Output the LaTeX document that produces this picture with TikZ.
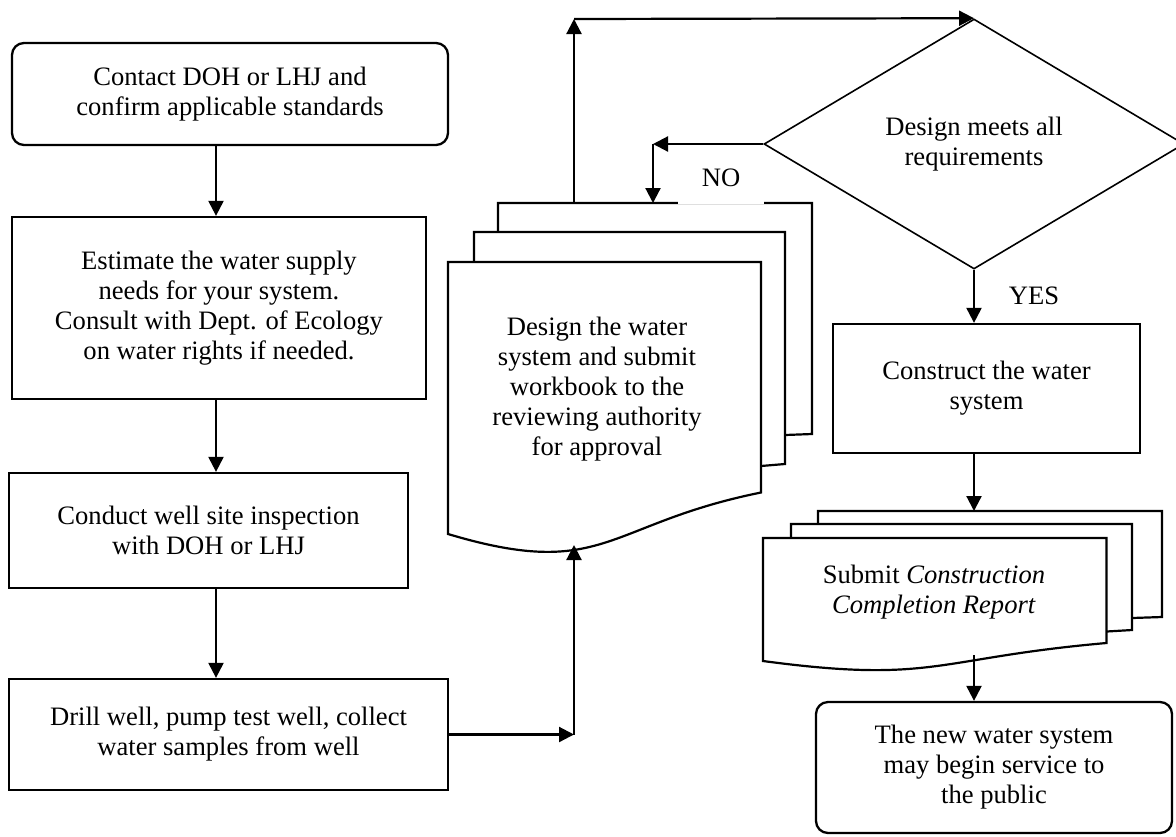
\documentclass[tikz,border=0pt]{standalone}
\usepackage{fontspec}
\setmainfont{Liberation Serif}
\usetikzlibrary{arrows.meta,shapes.geometric}
\tikzset{
  stepbox/.style={draw,line width=1.15pt,align=center,inner sep=0pt},
  endbox/.style={stepbox,rounded corners=6pt},
  arr/.style={-{Triangle[length=7.5pt,width=7.5pt]},line width=1.1pt},
  doc/.style={draw,fill=white,line width=1.1pt},
}
\begin{document}
\begin{tikzpicture}[x=0.5pt,y=-0.5pt,font=\fontsize{13.3}{15}\selectfont]
\useasboundingbox (0,0) rectangle (1176,836);
% left column
\node[endbox,minimum width=218pt,minimum height=51pt](start)at(230,94){Contact DOH or LHJ and\\confirm applicable standards};
\node[stepbox,minimum width=207pt,minimum height=91pt](est)at(219,308){Estimate the water supply\\needs for your system.\\Consult with Dept. of Ecology\\on water rights if needed.};
\node[stepbox,minimum width=199.5pt,minimum height=57.5pt](insp)at(208.5,530.5){Conduct well site inspection\\with DOH or LHJ};
\node[stepbox,minimum width=219.5pt,minimum height=55.5pt](drill)at(228.5,734.5){Drill well, pump test well, collect\\water samples from well};
\coordinate(spine)at(216,0);
\draw[arr](start.south-|spine)--(est.north-|spine);
\draw[arr](est.south-|spine)--(insp.north-|spine);
\draw[arr](insp.south-|spine)--(drill.north-|spine);
% design documents
\draw[doc](498,203)--(812,203)--(812,434)--(785,435)--(498,435)--cycle;
\draw[doc](474,232)--(785,232)--(785,464)--(761,466)--(474,466)--cycle;
\draw[doc](448,262)--(761,262)--(761,492.5)..controls(605,524)and(605,581)..(448,534)--cycle;
\node[align=center](design)at(597,389){Design the water\\system and submit\\workbook to the\\reviewing authority\\for approval};
\coordinate(drillTurn)at(574,734.5);
\coordinate(dsgnIn)at(574,545);
\coordinate(dsgnOut)at(574,203);
\coordinate(topTurn)at(574,19);
\draw[arr](drill.east)--(drillTurn);
\draw[arr](drillTurn)--(dsgnIn);
% decision
\node[draw,shape=diamond,line width=0.8pt,minimum width=210pt,minimum height=125pt,inner sep=0pt,align=center](dec)at(974,144){Design meets all\\requirements};
\draw[arr](dsgnOut)--(topTurn);
\draw[arr](topTurn)--(dec.north);
\coordinate(noTurn)at(653,144);
\coordinate(dsgnNo)at(653,203);
\draw[arr](dec.west)--(noTurn);
\draw[arr](noTurn)--(dsgnNo);
\node[fill=white,minimum width=43pt,minimum height=26pt,inner sep=0pt](no)at(721,178){NO};
\node[stepbox,minimum width=153.5pt,minimum height=64.5pt](cons)at(986.5,388.5){Construct the water\\system};
\draw[arr](dec.south)--(cons.north-|dec);
\node(yes)at(1034,296){YES};
% submit documents
\draw[doc](818,511)--(1162,511)--(1162,617)--(1132,618)--(818,618)--cycle;
\draw[doc](791,524)--(1132,524)--(1132,630)--(1106.5,631.5)--(791,631.5)--cycle;
\draw[doc](763,538)--(1106.5,538)--(1106.5,643)..controls(935,658)and(935,684)..(763,661)--cycle;
\node[align=center](submit)at(934,592){Submit \textit{Construction}\\\textit{Completion Report}};
\coordinate(subIn)at(974,511);
\coordinate(subOut)at(974,655);
\draw[arr](cons.south-|dec)--(subIn);
\node[endbox,minimum width=178pt,minimum height=65.5pt](fin)at(994,767.5){The new water system\\may begin service to\\the public};
\draw[arr](subOut)--(fin.north-|subOut);
\end{tikzpicture}
\end{document}
